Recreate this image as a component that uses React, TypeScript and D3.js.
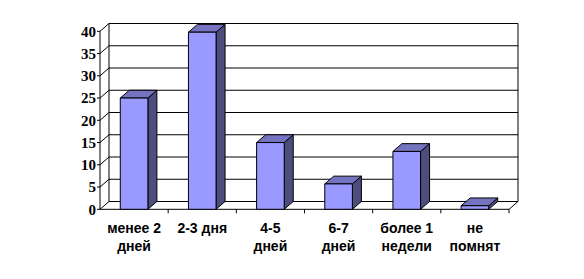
import React from "react";
import * as d3 from "d3";

const categories: string[][] = [
  ["менее 2", "дней"],
  ["2-3 дня"],
  ["4-5", "дней"],
  ["6-7", "дней"],
  ["более 1", "недели"],
  ["не", "помнят"],
];
const values: number[] = [25, 39.8, 15, 5.7, 13, 0.8];
const yTicks: number[] = [0, 5, 10, 15, 20, 25, 30, 35, 40];

const W = 584;
const H = 279;
const DX = 9;
const DY = 7.8;

export default function App() {
  const keys = categories.map((_, i) => String(i));
  const x = d3.scaleBand<string>().domain(keys).range([100, 509]).paddingInner(0).paddingOuter(0);
  const y = d3.scaleLinear().domain([0, 40]).range([209.3, 31.3]);
  const bw = x.bandwidth();
  const barW = bw * 0.405;
  const y0 = y(0);
  const xL = x.range()[0];
  const xR = x.range()[1];

  const poly = (pts: [number, number][]) => pts.map((p) => p.join(",")).join(" ");

  return (
    <svg
      width={W}
      height={H}
      style={{ position: "absolute", left: 0, top: 0, background: "#fff" }}
    >
      <g stroke="#000" strokeWidth={1} fill="none">
        {yTicks.map((t) => (
          <line key={"g" + t} x1={xL + DX} x2={xR + DX} y1={y(t) - DY} y2={y(t) - DY} />
        ))}
        {yTicks.map((t) => (
          <line key={"d" + t} x1={xL} x2={xL + DX} y1={y(t)} y2={y(t) - DY} />
        ))}
        <line x1={xL + DX} x2={xL + DX} y1={y(40) - DY} y2={y0 - DY} />
        <line x1={xR + DX} x2={xR + DX} y1={y(40) - DY} y2={y0 - DY} />
        <line x1={xL} x2={xL} y1={y(40)} y2={y0} />
        <line x1={xL} x2={xR} y1={y0} y2={y0} />
        <line x1={xR} x2={xR + DX} y1={y0} y2={y0 - DY} />
        {yTicks.map((t) => (
          <line key={"t" + t} x1={xL - 3} x2={xL} y1={y(t)} y2={y(t)} />
        ))}
        {keys.map((k) => (
          <line key={"xt" + k} x1={(x(k) as number) + bw} x2={(x(k) as number) + bw} y1={y0} y2={y0 + 4} />
        ))}
      </g>

      <g stroke="#000" strokeWidth={1} strokeLinejoin="round">
        {values.map((v, i) => {
          const k = keys[i];
          const cx = (x(k) as number) + bw / 2;
          const x0 = cx - barW / 2;
          const x1 = cx + barW / 2;
          const yt = y(v);
          return (
            <g key={"b" + i}>
              <polygon
                fill="#4D4D80"
                points={poly([
                  [x1, y0],
                  [x1 + DX, y0 - DY],
                  [x1 + DX, yt - DY],
                  [x1, yt],
                ])}
              />
              <polygon
                fill="#7373BF"
                points={poly([
                  [x0, yt],
                  [x0 + DX, yt - DY],
                  [x1 + DX, yt - DY],
                  [x1, yt],
                ])}
              />
              <rect x={x0} y={yt} width={barW} height={y0 - yt} fill="#9999FF" />
            </g>
          );
        })}
      </g>

      <g
        fontFamily="'Liberation Serif', 'Times New Roman', serif"
        fontWeight="bold"
        fontSize={15}
        fill="#000"
        textAnchor="end"
      >
        {yTicks.map((t) => (
          <text key={"yl" + t} x={xL - 4} y={y(t)} dy="0.35em">
            {t}
          </text>
        ))}
      </g>

      <g
        fontFamily="'Liberation Sans', Arial, sans-serif"
        fontWeight="bold"
        fontSize={14}
        fill="#000"
        textAnchor="middle"
      >
        {categories.map((lines, i) => {
          const cx = (x(keys[i]) as number) + bw / 2;
          return (
            <text key={"cl" + i} x={cx} y={233}>
              {lines.map((ln, j) => (
                <tspan key={j} x={cx} dy={j === 0 ? 0 : 18}>
                  {ln}
                </tspan>
              ))}
            </text>
          );
        })}
      </g>
    </svg>
  );
}
